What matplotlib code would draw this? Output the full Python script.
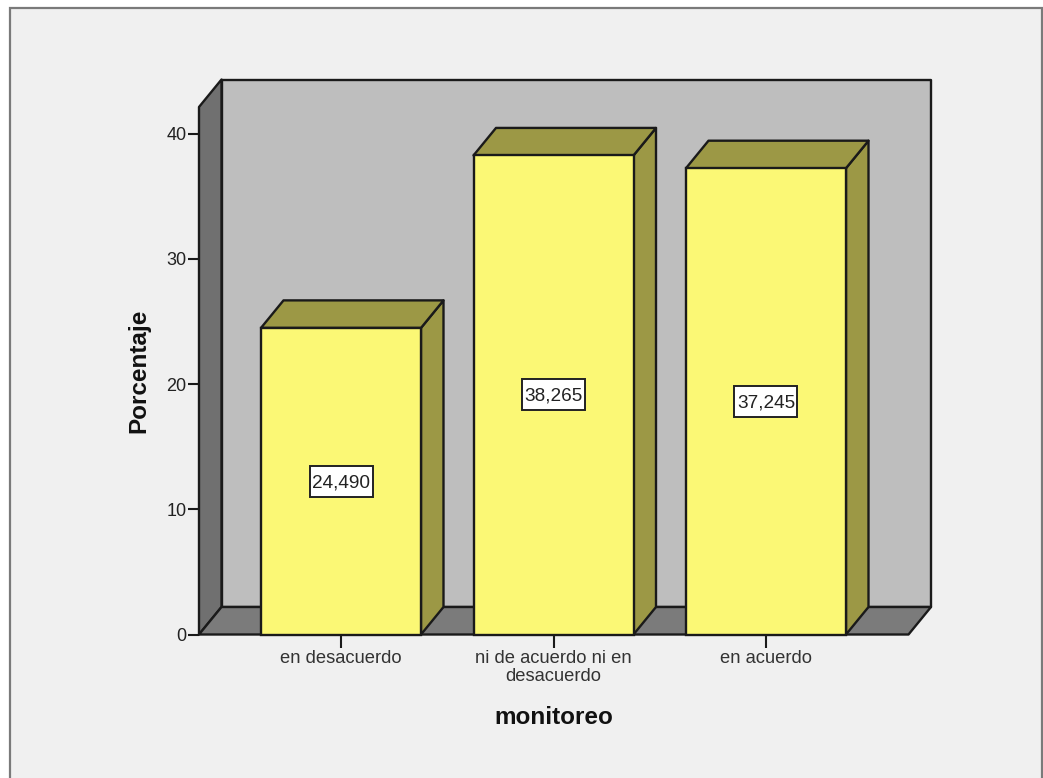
import matplotlib
matplotlib.use("Agg")
import matplotlib.pyplot as plt
from matplotlib.patches import Polygon, Rectangle

categorias = ['en desacuerdo', 'ni de acuerdo ni en\ndesacuerdo', 'en acuerdo']
porcentaje = [24.490, 38.265, 37.245]
etiquetas = ['24,490', '38,265', '37,245']
yticks = [0, 10, 20, 30, 40]

plt.rcParams['font.family'] = ['Liberation Sans', 'DejaVu Sans']

W, H = 1043, 778
fig = plt.figure(figsize=(W / 100, H / 100), dpi=100, facecolor='white')

# grey panel with its border (no border at the bottom)
fig.add_artist(Rectangle((9.5 / W, -0.01), (1041.5 - 9.5) / W, 1.01 - 8 / H,
                         transform=fig.transFigure, fc='#f0f0f0', ec='#7a7a7a', lw=1.6, zorder=-1))

# front plane of the 3d box, in pixels
left, right, bottom, top = 199, 908.5, 634.5, 107
ax = fig.add_axes([left / W, 1 - bottom / H, (right - left) / W, (bottom - top) / H])
px_x = 212.5          # pixels per category
px_y = 12.52          # pixels per percent
ax.set_xlim((left - 341) / px_x, (right - 341) / px_x)
ax.set_ylim(0, (bottom - top) / px_y)
ax.patch.set_alpha(0)
for s in ax.spines.values():
    s.set_visible(False)

# depth of the fake 3d
dx = 22.5 / px_x
dy = 27.5 / px_y
x0, x1 = ax.get_xlim()
y1 = ax.get_ylim()[1]
edge = '#1a1a1a'


def poly(pts, color, z=1):
    ax.add_patch(Polygon(pts, closed=True, fc=color, ec=edge, lw=1.7, zorder=z,
                         clip_on=False, joinstyle='round'))


poly([(x0 + dx, dy), (x1 + dx, dy), (x1 + dx, y1 + dy), (x0 + dx, y1 + dy)], '#bebebe')  # back wall
poly([(x0, 0), (x0 + dx, dy), (x0 + dx, y1 + dy), (x0, y1)], '#707070')                  # left wall
poly([(x0, 0), (x1, 0), (x1 + dx, dy), (x0 + dx, dy)], '#7b7b7b')                        # floor

ancho = 160 / px_x
caja_w, caja_h = 63 / px_x, 31 / px_y   # value label box
for i, v in enumerate(porcentaje):
    a, b = i - ancho / 2, i + ancho / 2
    poly([(b, 0), (b + dx, dy), (b + dx, v + dy), (b, v)], '#9c9845', 2)
    poly([(a, v), (b, v), (b + dx, v + dy), (a + dx, v + dy)], '#9c9845', 2)
    ax.bar(i, v, width=ancho, color='#fbf875', edgecolor=edge, linewidth=1.7, zorder=3, clip_on=False)
    ax.add_patch(Rectangle((i - caja_w / 2, v / 2 - caja_h / 2), caja_w, caja_h,
                           fc='white', ec='#222222', lw=1.4, zorder=4))
    ax.text(i, v / 2 - 1.5 / px_y, etiquetas[i], ha='center', va='center', fontsize=13.7,
            color='#222222', zorder=5)

ax.set_yticks(yticks)
ax.set_xticks(range(len(categorias)))
ax.set_xticklabels(categorias, linespacing=1.05)
ax.tick_params(axis='y', length=8, width=1.5, color=edge, labelsize=13, labelcolor='#222222', pad=1)
ax.tick_params(axis='x', length=9, width=1.5, color=edge, labelsize=13.2, labelcolor='#333333', pad=2.5)

fig.text(139 / W, 1 - 371 / H, 'Porcentaje', rotation=90, ha='center', va='center',
         fontsize=17.5, fontweight='bold', color='#111111')
fig.text(553.5 / W, 1 - 717 / H, 'monitoreo', ha='center', va='center',
         fontsize=17.5, fontweight='bold', color='#111111')

fig.savefig('out.png', dpi=100, facecolor=fig.get_facecolor())
